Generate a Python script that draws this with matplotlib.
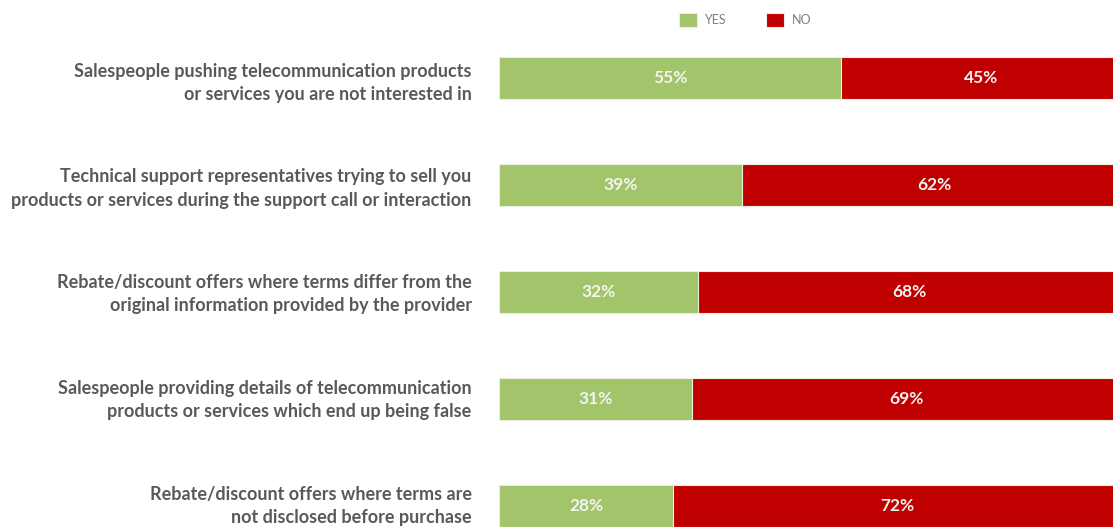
import matplotlib
matplotlib.use("Agg")
import matplotlib.pyplot as plt
import numpy as np

categories = [
    "Salespeople pushing telecommunication products\nor services you are not interested in",
    "Technical support representatives trying to sell you\nproducts or services during the support call or interaction",
    "Rebate/discount offers where terms differ from the\noriginal information provided by the provider",
    "Salespeople providing details of telecommunication\nproducts or services which end up being false",
    "Rebate/discount offers where terms are\nnot disclosed before purchase",
]
yes_values = [55, 39, 32, 31, 28]
no_values = [45, 62, 68, 69, 72]
series_names = ["YES", "NO"]

GREEN = "#A2C46A"
RED = "#C00000"
LABEL_GRAY = "#595959"
FONT = ["Lato", "DejaVu Sans"]

fig = plt.figure(figsize=(11.13, 5.27), dpi=100)
ax = fig.add_axes([499 / 1113, 0, 1 - 499 / 1113, 1])

y = np.arange(len(categories))
bar_h = 0.385
b_yes = ax.barh(y, yes_values, height=bar_h, color=GREEN, edgecolor="#EAF0E0",
                linewidth=0.8, label=series_names[0])
b_no = ax.barh(y, no_values, left=yes_values, height=bar_h, color=RED,
               edgecolor="#EAF0E0", linewidth=0.8, label=series_names[1])

for i in range(len(categories)):
    ax.text(yes_values[i] / 2, y[i], f"{yes_values[i]}%", ha="center", va="center",
            color="#F4F4F0", fontsize=12.5, fontweight="bold", family=FONT)
    ax.text(yes_values[i] + no_values[i] / 2, y[i], f"{no_values[i]}%", ha="center",
            va="center", color="#F4F4F0", fontsize=12.5, fontweight="bold", family=FONT)
    # category labels sit a little low on the upper rows, level with the bar at the bottom
    ax.text(-4.4, y[i] + 0.045 - 0.012 * i, categories[i], ha="right", va="center",
            color=LABEL_GRAY, fontsize=13.0, fontweight="bold", family=FONT,
            linespacing=1.44)

ax.set_xlim(0, (1113 - 499) / 6.22)
ax.set_ylim(4 + 21 / 107, -78 / 107)
ax.axis("off")

leg = fig.legend(handles=[b_yes, b_no], labels=series_names, loc="center",
                 bbox_to_anchor=(745 / 1113, 1 - 20 / 527), ncol=2, frameon=False,
                 handlelength=1.45, handleheight=1.3, columnspacing=3.2,
                 handletextpad=0.6, prop={"family": FONT, "size": 9})
for t in leg.get_texts():
    t.set_color("#7F7F7F")

fig.savefig("out.png", dpi=100)
